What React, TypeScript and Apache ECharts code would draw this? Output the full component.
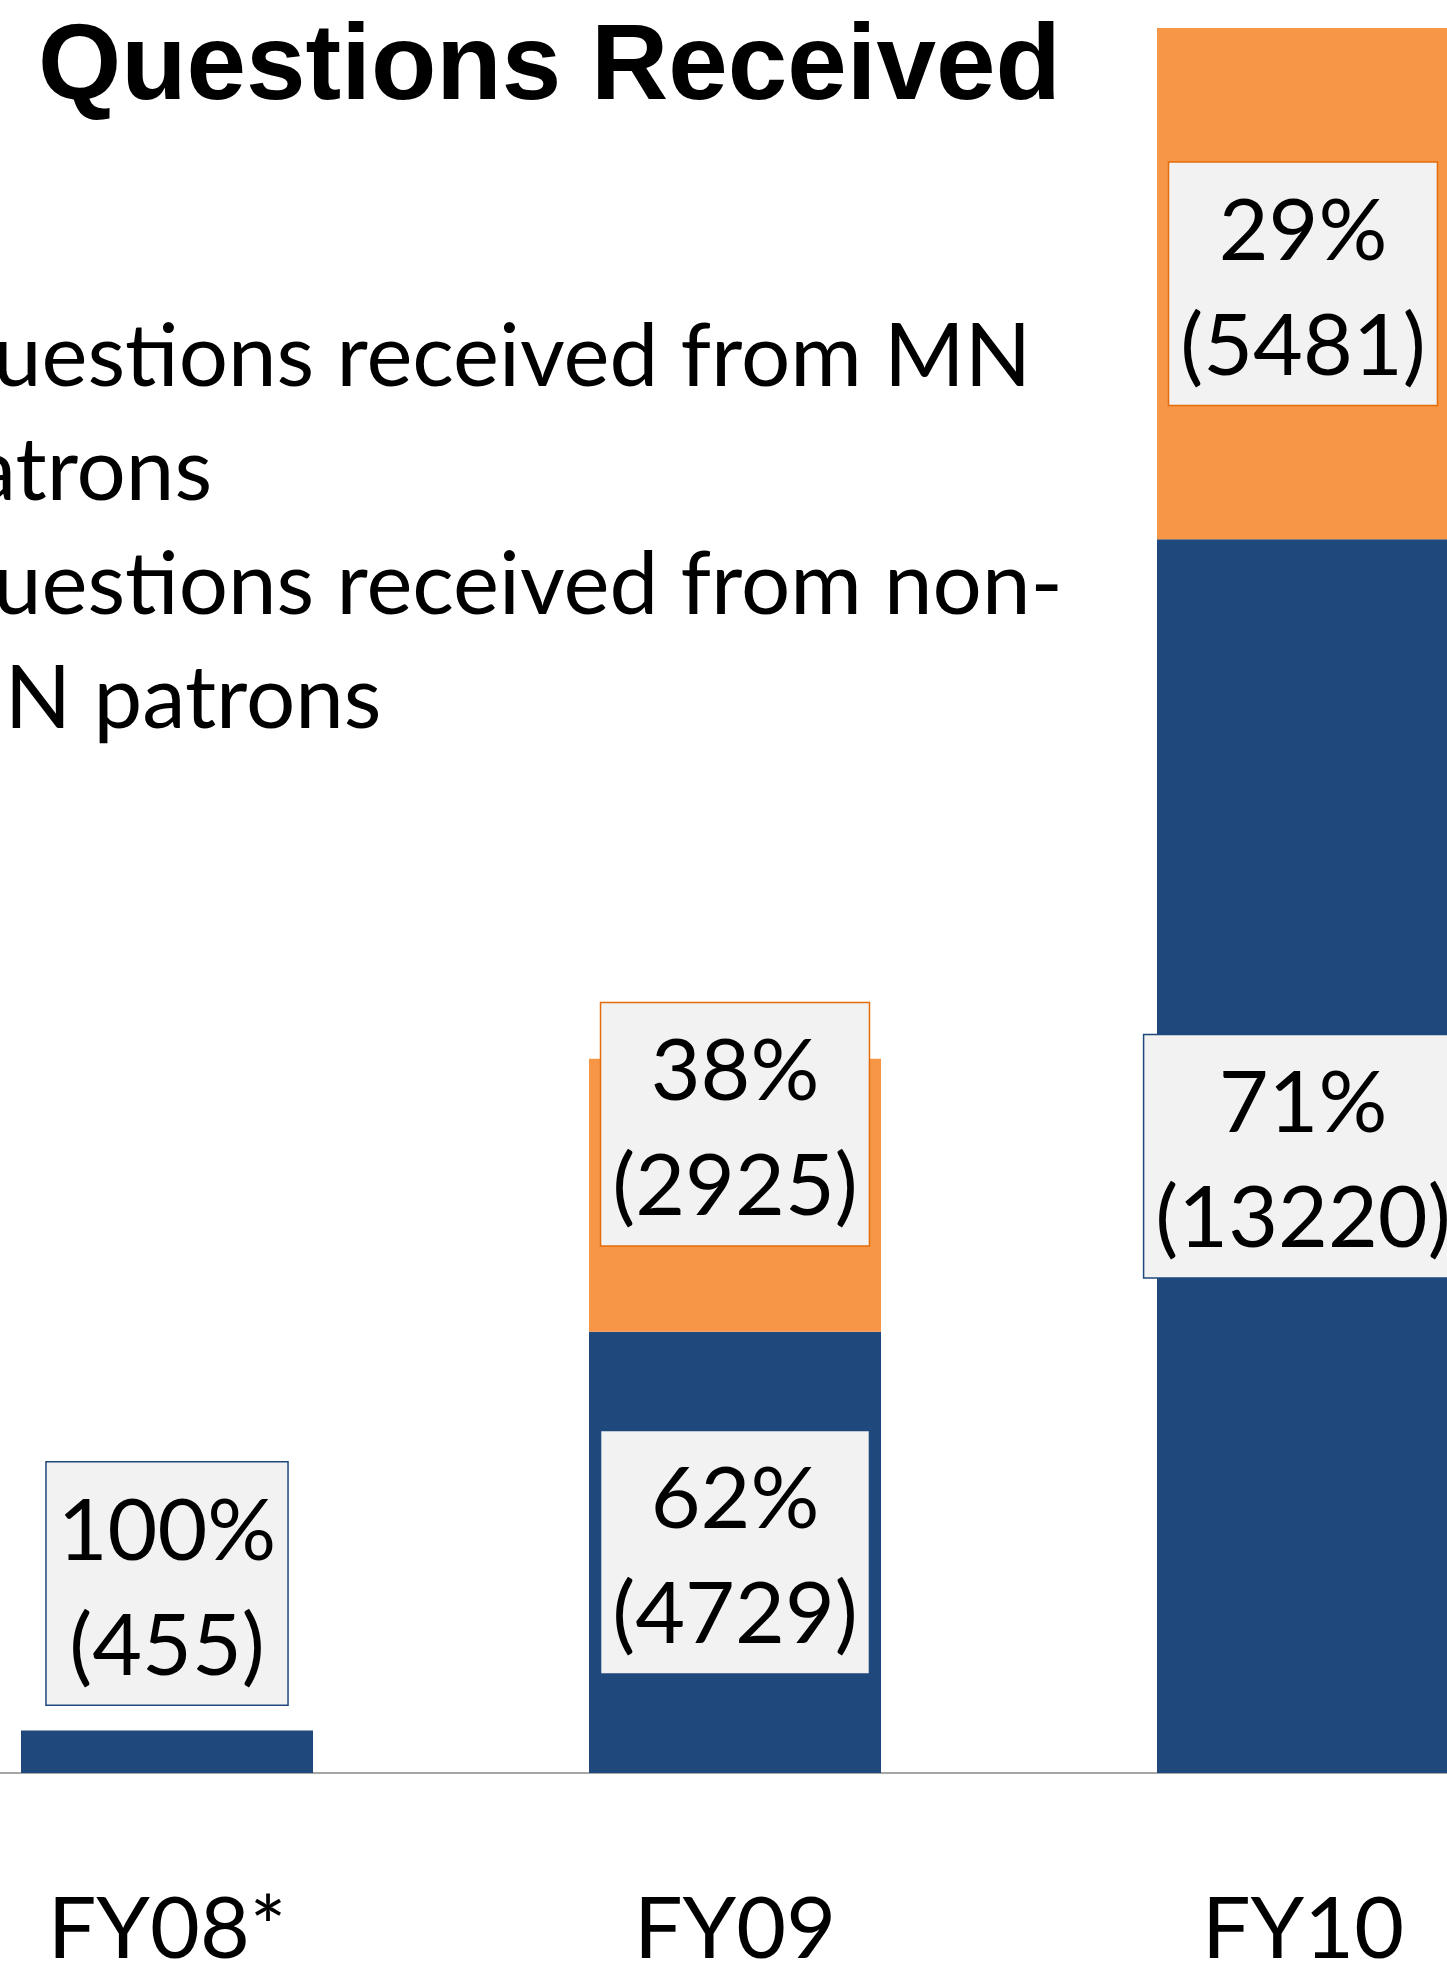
import React, { useEffect, useRef } from "react";
import * as echarts from "echarts";

const categories = ["FY08*", "FY09", "FY10"];
const mnValues: (number | null)[] = [455, 4729, 13220];
const nonMnValues: (number | null)[] = [null, 2925, 5481];
const seriesNames = ["Questions received from MN patrons", "Questions received from non-MN patrons"];
const legendLines = [
  ["Questions received from MN", "patrons"],
  ["Questions received from non-", "MN patrons"],
];
const titleText = "Questions Received";

const BLUE = "#1F497D";
const ORANGE = "#F79646";
const FONT = "Lato";
const SHIFT = 117; // the chart canvas starts this far left of the visible frame

export default function App() {
  const ref = useRef<HTMLDivElement>(null);
  useEffect(() => {
    document.body.style.margin = "0";
    if (!ref.current) return;
    const chart = echarts.init(ref.current, null, { renderer: "svg" });
    const totals = categories.map((_, i) => (mnValues[i] || 0) + (nonMnValues[i] || 0));
    const fmt = (p: any) => {
      const v = p.value as number;
      const pct = Math.round((v / totals[p.dataIndex]) * 100);
      return pct + "%\n(" + v + ")";
    };
    const labelBase = {
      show: true,
      formatter: fmt,
      fontFamily: FONT,
      fontSize: 86,
      lineHeight: 115,
      color: "#000",
      backgroundColor: "#F2F2F2",
      borderWidth: 1.5,
      padding: [6, 11],
    };
    chart.setOption({
      animation: false,
      backgroundColor: "#fff",
      title: {
        text: titleText,
        left: 38 + SHIFT,
        top: 8,
        padding: 0,
        textStyle: { fontFamily: "Liberation Sans", fontWeight: "bold", fontSize: 107, color: "#000" },
      },
      legend: {
        orient: "vertical",
        left: -111 + SHIFT,
        top: 295,
        padding: 0,
        itemGap: 0,
        itemWidth: 30,
        itemHeight: 30,
        selectedMode: false,
        data: seriesNames,
        formatter: (name: string) => legendLines[seriesNames.indexOf(name)].join("\n"),
        textStyle: { fontFamily: FONT, fontSize: 87, lineHeight: 114, color: "#000" },
      },
      grid: { left: 0, top: 0, width: 1704, height: 1773, containLabel: false },
      xAxis: {
        type: "category",
        data: categories,
        axisTick: { show: false },
        axisLine: { lineStyle: { color: "#A6A6A6", width: 2 } },
        axisLabel: { fontFamily: FONT, fontSize: 86, lineHeight: 86, color: "#000", margin: 108 },
      },
      yAxis: { type: "value", min: 0, max: 19000, show: false, splitLine: { show: false } },
      series: [
        {
          name: seriesNames[0],
          type: "bar",
          stack: "total",
          barWidth: 292,
          itemStyle: { color: BLUE },
          label: { ...labelBase, position: "inside", borderColor: BLUE },
          data: mnValues.map((v, i) =>
            i === 0 ? { value: v, label: { position: "top", distance: 26 } } : { value: v }
          ),
        },
        {
          name: seriesNames[1],
          type: "bar",
          stack: "total",
          barWidth: 292,
          itemStyle: { color: ORANGE },
          label: { ...labelBase, position: "inside", borderColor: "#E46C0A" },
          data: nonMnValues.map((v, i) =>
            i === 1 ? { value: v, label: { offset: [0, -71] } } : { value: v }
          ),
        },
      ],
    });
    return () => chart.dispose();
  }, []);
  return (
    <div style={{ position: "relative", width: 1447, height: 1970, overflow: "hidden", background: "#fff" }}>
      <div ref={ref} style={{ position: "absolute", left: -SHIFT, top: 0, width: 1704, height: 1970 }} />
    </div>
  );
}
